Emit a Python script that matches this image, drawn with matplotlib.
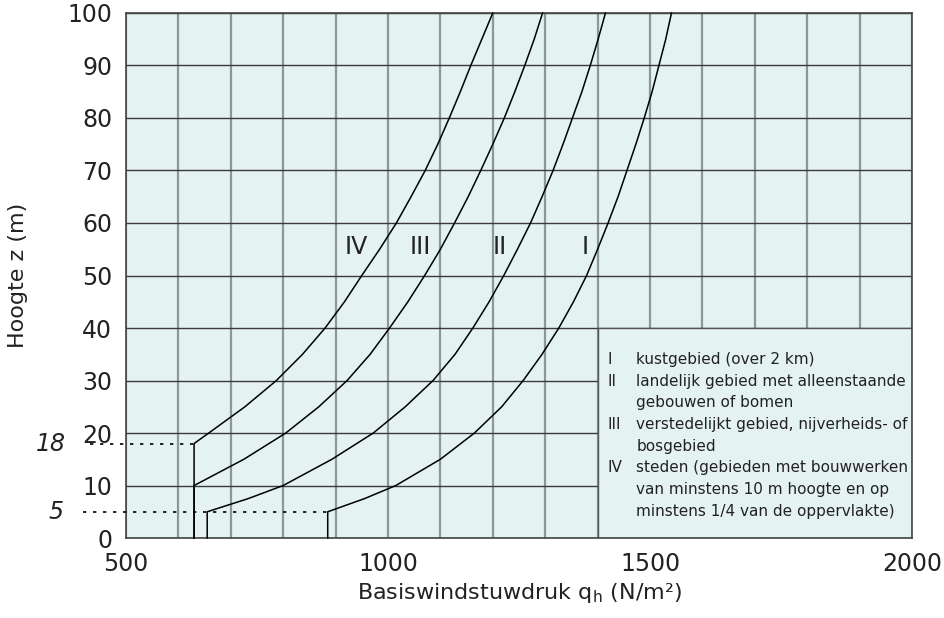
import matplotlib
matplotlib.use("Agg")
import matplotlib.pyplot as plt
from matplotlib.patches import Rectangle
from matplotlib.ticker import MultipleLocator

plt.rcParams['font.family'] = ['DejaVu Sans']

# hoogte z (m) en basiswindstuwdruk (N/m2) per gebied
z_IV = [0, 18, 20, 25, 30, 35, 40, 45, 50, 55, 60, 65, 70, 75, 80, 85, 90, 95, 100]
q_IV = [630, 630, 658, 727, 787, 837, 880, 917, 950, 984, 1016, 1044, 1071, 1095,
        1117, 1138, 1158, 1179, 1200]

z_III = [0, 10, 15, 20, 25, 30, 35, 40, 45, 50, 55, 60, 65, 70, 75, 80, 85, 90, 95, 100]
q_III = [630, 630, 725, 805, 868, 922, 966, 1003, 1038, 1070, 1100, 1127, 1153, 1177,
         1200, 1222, 1242, 1261, 1279, 1295]

z_II = [0, 5, 7.5, 10, 15, 20, 25, 30, 35, 40, 45, 50, 55, 60, 65, 70, 75, 80, 85, 90, 95, 100]
q_II = [655, 655, 733, 800, 893, 972, 1033, 1086, 1128, 1162, 1193, 1221, 1247, 1272,
        1294, 1315, 1334, 1352, 1370, 1386, 1401, 1415]

z_I = [0, 5, 7.5, 10, 15, 20, 25, 30, 35, 40, 45, 50, 55, 60, 65, 70, 75, 80, 85, 90, 95, 100]
q_I = [885, 885, 955, 1015, 1100, 1165, 1217, 1258, 1294, 1326, 1354, 1379, 1400, 1420,
       1439, 1456, 1473, 1489, 1504, 1517, 1530, 1541]

curve_names = ["IV", "III", "II", "I"]
name_x = [940, 1061, 1214, 1376]
name_z = 55.5

legend_lines = [
    ("I", "kustgebied (over 2 km)"),
    ("II", "landelijk gebied met alleenstaande"),
    ("", "gebouwen of bomen"),
    ("III", "verstedelijkt gebied, nijverheids- of"),
    ("", "bosgebied"),
    ("IV", "steden (gebieden met bouwwerken"),
    ("", "van minstens 10 m hoogte en op"),
    ("", "minstens 1/4 van de oppervlakte)"),
]

bg = '#e4f2f2'

fig = plt.figure(figsize=(9.45, 6.18), dpi=100)
ax = fig.add_axes([0.1333, 0.1294, 0.8318, 0.8496])
ax.set_facecolor(bg)

ax.set_xlim(500, 2000)
ax.set_ylim(0, 100)
ax.set_xticks([500, 1000, 1500, 2000])
ax.xaxis.set_minor_locator(MultipleLocator(100))
ax.set_yticks(range(0, 101, 10))
ax.tick_params(which='both', length=0, labelsize=17, pad=10, colors='#222222')
ax.set_axisbelow(True)
ax.xaxis.grid(True, which='both', color='#8c9898', lw=1.6)
ax.yaxis.grid(True, which='major', color='#3a3a3a', lw=1.0)
for s in ax.spines.values():
    s.set_color('#444444')
    s.set_linewidth(1.2)

# legendavak zonder rasterlijnen
ax.add_patch(Rectangle((1400, 0), 600, 40, facecolor=bg, edgecolor='#555555',
                       lw=1.0, zorder=1))

for z, q in [(z_IV, q_IV), (z_III, q_III), (z_II, q_II), (z_I, q_I)]:
    ax.plot(q, z, color='black', lw=1.1, zorder=3, clip_on=False)

# stippellijnen bij 18 m en 5 m
ax.plot([431, q_IV[0]], [18, 18], color='black', lw=1.2, ls=(0, (2, 4)), clip_on=False, zorder=3)
ax.plot([418, q_I[0]], [5, 5], color='black', lw=1.2, ls=(0, (2, 4)), clip_on=False, zorder=3)
ax.text(-0.095, 18, "18", transform=ax.get_yaxis_transform(), ha='center', va='center',
        fontsize=17, style='italic', color='#222222')
ax.text(-0.089, 5, "5", transform=ax.get_yaxis_transform(), ha='center', va='center',
        fontsize=17, style='italic', color='#222222')

for name, x in zip(curve_names, name_x):
    ax.text(x, name_z, name, ha='center', va='center', fontsize=17, color='#222222', zorder=4)

y0 = 34.0
for i, (num, txt) in enumerate(legend_lines):
    y = y0 - i * 4.13
    ax.text(1418, y, num, ha='left', va='center', fontsize=11, color='#222222', zorder=4)
    ax.text(1474, y, txt, ha='left', va='center', fontsize=11, color='#222222', zorder=4)

ax.set_xlabel("Basiswindstuwdruk q$_\\mathregular{h}$ (N/m²)", fontsize=16, color='#222222', labelpad=4)
ax.set_ylabel("Hoogte z (m)", fontsize=16, color='#222222', labelpad=28)

fig.savefig("out.png", dpi=100)
